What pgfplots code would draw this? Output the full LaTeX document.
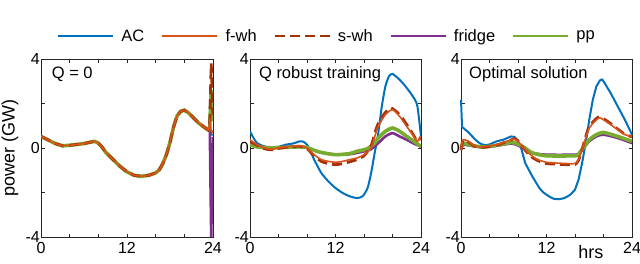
\documentclass[border=0pt]{standalone}
\usepackage{fontspec}
\setmainfont{Liberation Sans}
\usepackage{pgfplots}
\usepackage{pgfplotstable}
\pgfplotsset{compat=1.18}
\definecolor{cAC}{RGB}{0,114,189}
\definecolor{cFW}{RGB}{217,83,25}
\definecolor{cSW}{RGB}{160,50,10}
\definecolor{cFR}{RGB}{126,47,142}
\definecolor{cPP}{RGB}{119,172,48}

\pgfplotstableread{
t AC fwh swh fridge pp
0 0.52 0.52 0.52 0.52 0.52
1 0.36 0.36 0.36 0.36 0.36
2 0.2 0.2 0.2 0.2 0.2
3 0.1 0.1 0.1 0.1 0.1
4 0.12 0.12 0.12 0.12 0.12
5 0.16 0.16 0.16 0.16 0.16
6 0.2 0.2 0.2 0.2 0.2
7 0.27 0.27 0.27 0.27 0.27
7.5 0.3 0.3 0.3 0.3 0.3
8 0.22 0.22 0.22 0.22 0.22
8.5 0.05 0.05 0.05 0.05 0.05
9 -0.18 -0.18 -0.18 -0.18 -0.18
10 -0.5 -0.5 -0.5 -0.5 -0.5
11 -0.82 -0.82 -0.82 -0.82 -0.82
12 -1.07 -1.07 -1.07 -1.07 -1.07
13 -1.23 -1.23 -1.23 -1.23 -1.23
14 -1.27 -1.27 -1.27 -1.27 -1.27
15 -1.23 -1.23 -1.23 -1.23 -1.23
16 -1.12 -1.12 -1.12 -1.12 -1.12
16.5 -0.98 -0.98 -0.98 -0.98 -0.98
17 -0.7 -0.7 -0.7 -0.7 -0.7
17.5 -0.3 -0.3 -0.3 -0.3 -0.3
18 0.25 0.25 0.25 0.25 0.25
18.5 0.95 0.95 0.95 0.95 0.95
19 1.45 1.45 1.45 1.45 1.45
19.5 1.65 1.65 1.65 1.65 1.65
20 1.7 1.7 1.7 1.7 1.7
20.5 1.6 1.6 1.6 1.6 1.6
21 1.45 1.45 1.45 1.45 1.45
22 1.12 1.12 1.12 1.12 1.12
23 0.88 0.88 0.88 0.88 0.88
23.4 0.8 0.8 0.8 0.8 0.8
23.55 0.9 1.2 1.2 0.8 1.0
23.75 0.6 0.8 3.8 -4.0 2.6
24 0.6 0.7 1.5 0.5 1.2
}\tone

\tikzset{ttl/.style={anchor=west, font=\fontsize{16.5}{19}\selectfont, inner sep=0pt}}

\pgfplotsset{
 panel/.style={
  scale only axis, width=171pt, height=178pt,
  anchor=south west,
  xmin=0,xmax=24,ymin=-4,ymax=4,
  xtick={0,4,...,24}, xticklabels={0,,,12,,,24},
  ytick={-4,-2,...,4}, yticklabels={-4,,0,,4},
  axis line style={black!85, line width=0.6pt},
  tick style={black!85, line width=0.6pt},
  major tick length=3.5pt,
  tick label style={font=\fontsize{16}{19}\selectfont},
  /pgf/number format/assume math mode=true,
  xticklabel style={inner sep=1pt, yshift=-4.5pt},
  yticklabel style={inner sep=1pt, yshift=0.5pt},
  legend image code/.code={\draw[##1] (0pt,0pt) -- (55pt,0pt);},
 },
 lAC/.style={color=cAC, line width=2pt},
 lFW/.style={color=cFW, line width=1.6pt},
 lSW/.style={color=cSW, line width=2.8pt, dash pattern=on 10pt off 5pt},
 lFR/.style={color=cFR, line width=2.6pt},
 lPP/.style={color=cPP, line width=3.6pt},
}

\begin{document}
\begin{tikzpicture}
\useasboundingbox (0,0) rectangle (640pt,263pt);

% ---------- Panel 1 ----------
\begin{axis}[panel, at={(41pt,26pt)}, width=172pt,
  ylabel={power (GW)},
  ylabel style={at={(axis description cs:-0.18,0.5)}, anchor=center, font=\fontsize{18}{20}\selectfont},
  legend columns=5,
  legend style={at={(axis description cs:0.093,1.129)}, anchor=west, draw=none, fill=none,
    inner sep=0pt, font=\fontsize{16.5}{19}\selectfont, nodes={inner sep=0pt},
    /tikz/every odd column/.append style={column sep=7pt},
    /tikz/every even column/.append style={column sep=17pt}},
  legend image code/.code={\draw[#1, line width=2.2pt] (0pt,0pt) -- (55pt,0pt);},
]
\addlegendimage{lAC}\addlegendentry{AC}
\addlegendimage{lFW}\addlegendentry{f-wh}
\addlegendimage{lSW}\addlegendentry{s-wh}
\addlegendimage{lFR}\addlegendentry{fridge}
\addlegendimage{lPP}\addlegendentry{pp}
\addplot[lAC, forget plot] table[x=t, y=AC] {\tone};
\addplot[lFR, forget plot] table[x=t, y=fridge] {\tone};
\addplot[lPP, forget plot] table[x=t, y=pp] {\tone};
\addplot[lSW, forget plot] table[x=t, y=swh] {\tone};
\addplot[lFW, forget plot] table[x=t, y=fwh] {\tone};
\node[ttl] at (axis description cs:0.062,0.916) {Q = 0};
\end{axis}

% ---------- Panel 2 ----------
\begin{axis}[panel, at={(250pt,26pt)}]
\addplot[lAC, smooth, tension=0.4] coordinates {(0,0.75) (0.5,0.45) (1,0.22) (2,0.07) (3,0.0) (4,0.05) (5,0.15) (6,0.2) (7,0.3) (7.5,0.28) (8,0.15) (8.5,-0.15) (9,-0.52) (10,-1.12) (11,-1.5) (12,-1.8) (13,-2.02) (14,-2.17) (15,-2.25) (15.8,-2.17) (16.5,-1.8) (17,-1.12) (17.5,-0.22) (18,0.67) (18.5,1.87) (19,2.77) (19.5,3.22) (20,3.33) (21,3.07) (22,2.7) (23,2.25) (23.5,1.87) (24,0.52)};
\addplot[lFR, smooth, tension=0.4] coordinates {(0,0.22) (1,0.08) (3,0.03) (5,0.05) (7,0.07) (8,0.02) (9,-0.1) (10,-0.2) (12,-0.3) (14,-0.28) (15,-0.22) (16,-0.15) (17,-0.05) (17.5,0.08) (18,0.22) (19,0.52) (20,0.67) (21,0.52) (22,0.37) (23,0.2) (24,0.07)};
\addplot[lPP, smooth, tension=0.4] coordinates {(0,0.15) (1,0.05) (3,0.0) (5,0.03) (7,0.05) (8,0.02) (9,-0.1) (10,-0.2) (12,-0.3) (14,-0.25) (15,-0.15) (16,-0.08) (16.5,-0.03) (17.5,0.22) (18,0.45) (19,0.75) (20,0.9) (21,0.75) (22,0.52) (23,0.3) (24,0.07)};
\addplot[lSW, smooth, tension=0.4] coordinates {(0,0.3) (1,0.12) (2,-0.03) (3,-0.08) (4,-0.02) (5,0.03) (6,0.06) (7,0.08) (8,-0.03) (9,-0.35) (10,-0.6) (11,-0.7) (12,-0.75) (13,-0.7) (14,-0.62) (15,-0.52) (16,-0.35) (17,0.1) (17.5,0.65) (18,1.1) (19,1.6) (19.8,1.8) (21,1.5) (22,1.05) (23,0.55) (23.5,0.3) (24,0.5)};
\addplot[lFW, smooth, tension=0.4] coordinates {(0,0.37) (1,0.15) (2,0.0) (3,-0.05) (4,0.0) (5,0.05) (6,0.08) (7,0.1) (8,0.0) (9,-0.3) (10,-0.52) (11,-0.6) (12,-0.64) (13,-0.6) (14,-0.52) (15,-0.45) (16,-0.3) (17,0.0) (17.5,0.5) (18,0.97) (19,1.5) (20,1.72) (21,1.42) (22,0.97) (23,0.52) (23.5,0.3) (24,0.52)};
\node[ttl] at (axis description cs:0.052,0.916) {Q robust training};
\end{axis}

% ---------- Panel 3 ----------
\begin{axis}[panel, at={(461pt,26pt)}, clip=false]
\addplot[lAC] coordinates {(0,2.17) (0.15,0.95) (0.5,0.85) (1,0.72) (1.5,0.55) (2,0.38) (2.5,0.24) (3,0.16) (3.5,0.13) (4,0.16) (5,0.3) (6,0.38) (6.5,0.45) (7,0.52) (7.5,0.5) (8,0.32) (8.5,-0.07) (9,-0.67) (10,-1.27) (11,-1.8) (11.5,-1.98) (12,-2.1) (12.5,-2.2) (13,-2.28) (13.5,-2.3) (14,-2.29) (14.5,-2.25) (15,-2.17) (15.5,-2.05) (16,-1.87) (16.5,-1.42) (17,-0.67) (17.5,0.22) (18,1.27) (18.5,2.17) (19,2.77) (19.5,3.04) (19.8,3.08) (20,3.0) (21,2.47) (22,1.87) (23,1.27) (24,0.6)};
\addplot[lFR, smooth, tension=0.4] coordinates {(0,-0.07) (0.3,0.15) (1,0.12) (3,0.03) (5,0.1) (7,0.2) (8,0.12) (9,-0.05) (10,-0.22) (12,-0.3) (16,-0.3) (16.5,-0.25) (17,-0.07) (18,0.3) (19,0.52) (20,0.6) (22,0.45) (24,0.22)};
\addplot[lPP, smooth, tension=0.4] coordinates {(0,0.0) (0.3,0.22) (1,0.15) (3,0.05) (5,0.12) (7,0.25) (8,0.18) (9,0.0) (10,-0.22) (12,-0.35) (16,-0.35) (16.5,-0.28) (17,-0.07) (18,0.37) (19,0.6) (20,0.7) (22,0.52) (24,0.3)};
\addplot[lSW, smooth, tension=0.4] coordinates {(0,-0.1) (0.3,0.35) (1,0.28) (2,0.06) (3,0.03) (5,0.13) (7,0.36) (7.5,0.42) (8,0.32) (9,-0.1) (10,-0.42) (11,-0.6) (12,-0.7) (13,-0.72) (15,-0.75) (16,-0.74) (16.5,-0.55) (17,-0.05) (17.5,0.5) (18,0.97) (19,1.33) (19.5,1.4) (20,1.32) (21,1.1) (22,0.85) (23,0.62) (24,0.5)};
\addplot[lFW, smooth, tension=0.4] coordinates {(0,-0.07) (0.3,0.37) (1,0.3) (2,0.08) (3,0.05) (5,0.15) (7,0.37) (7.5,0.4) (8,0.3) (9,-0.07) (10,-0.37) (11,-0.55) (12,-0.64) (13,-0.67) (15,-0.7) (16,-0.7) (16.5,-0.52) (17,-0.07) (17.5,0.45) (18,0.9) (19,1.27) (19.5,1.35) (20,1.27) (21,1.05) (22,0.82) (23,0.6) (24,0.52)};
\node[ttl] at (axis description cs:0.047,0.916) {Optimal solution};
\node[anchor=base, font=\fontsize{18}{20}\selectfont, inner sep=0pt] at (axis description cs:0.76,0) [yshift=-21pt] {hrs};
\end{axis}
\end{tikzpicture}
\end{document}
